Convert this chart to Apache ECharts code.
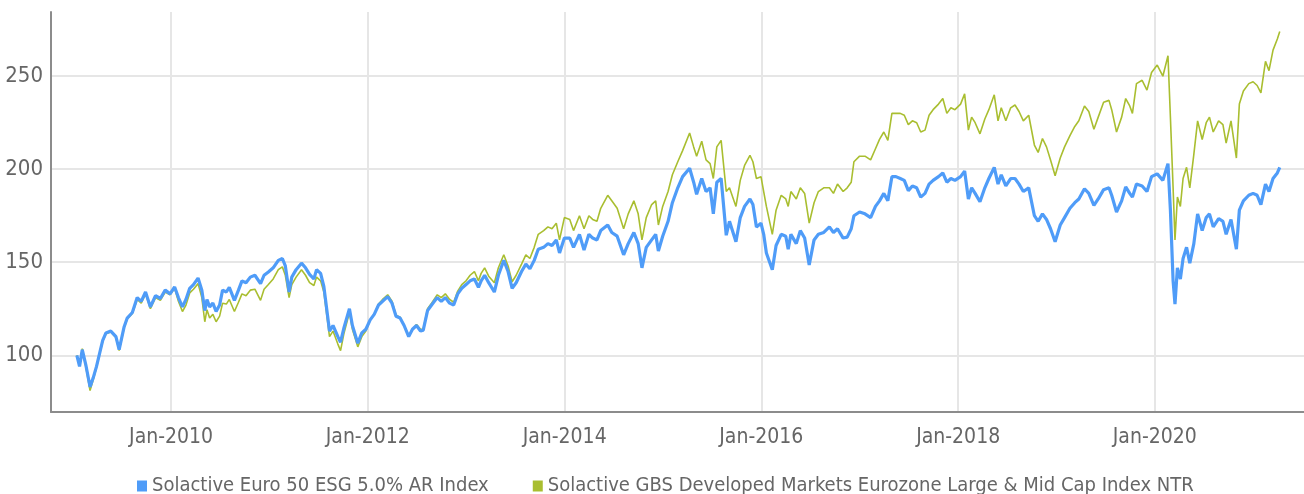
<!DOCTYPE html>
<html><head><meta charset="utf-8">
<script src="https://cdn.jsdelivr.net/npm/echarts@6/dist/echarts.min.js"></script>
<style>html,body{margin:0;padding:0;background:#fff}#c{width:1304px;height:494px}</style>
</head><body><div id="c"></div>
<script>
const seriesNames = ['Solactive Euro 50 ESG 5.0% AR Index', 'Solactive GBS Developed Markets Eurozone Large & Mid Cap Index NTR'];
const dates = [
'2009-01-16','2009-01-26','2009-02-05','2009-02-18','2009-03-06','2009-03-18','2009-03-30','2009-04-12','2009-04-22','2009-05-04','2009-05-22','2009-06-10','2009-06-22','2009-07-10','2009-07-22','2009-08-10','2009-08-28','2009-09-12','2009-09-28','2009-10-16','2009-11-04','2009-11-22','2009-12-10','2009-12-28',
'2010-01-14','2010-01-28','2010-02-12','2010-02-25','2010-03-11','2010-03-25','2010-04-11','2010-04-25','2010-05-06','2010-05-14','2010-05-24','2010-06-05','2010-06-17','2010-06-30','2010-07-11','2010-07-25','2010-08-05','2010-08-24','2010-09-08','2010-09-21','2010-10-06','2010-10-22','2010-11-08','2010-11-29','2010-12-12','2010-12-28',
'2011-01-15','2011-02-03','2011-02-18','2011-03-01','2011-03-15','2011-03-25','2011-04-10','2011-04-30','2011-05-15','2011-05-30','2011-06-15','2011-06-25','2011-07-10','2011-07-22','2011-08-05','2011-08-12','2011-08-25','2011-09-12','2011-09-22','2011-10-05','2011-10-25','2011-11-05','2011-11-25','2011-12-10','2011-12-25',
'2012-01-10','2012-01-25','2012-02-10','2012-02-25','2012-03-15','2012-03-31','2012-04-15','2012-04-30','2012-05-15','2012-06-01','2012-06-15','2012-06-30','2012-07-15','2012-07-25','2012-08-10','2012-08-25','2012-09-15','2012-09-30','2012-10-15','2012-10-31','2012-11-15','2012-11-30','2012-12-15','2012-12-31',
'2013-01-15','2013-01-31','2013-02-15','2013-02-25','2013-03-10','2013-03-25','2013-04-15','2013-04-30','2013-05-20','2013-06-05','2013-06-20','2013-07-05','2013-07-25','2013-08-10','2013-08-25','2013-09-10','2013-09-25','2013-10-15','2013-10-31','2013-11-15','2013-12-01','2013-12-13','2013-12-31',
'2014-01-20','2014-02-03','2014-02-25','2014-03-14','2014-04-01','2014-04-15','2014-05-01','2014-05-15','2014-06-10','2014-06-25','2014-07-15','2014-08-08','2014-08-25','2014-09-15','2014-10-01','2014-10-15','2014-10-31','2014-11-20','2014-12-05','2014-12-15','2014-12-31',
'2015-01-20','2015-02-05','2015-02-25','2015-03-15','2015-04-10','2015-04-25','2015-05-06','2015-05-25','2015-06-10','2015-06-25','2015-07-07','2015-07-20','2015-08-05','2015-08-24','2015-09-05','2015-09-29','2015-10-15','2015-10-31','2015-11-20','2015-12-01','2015-12-14','2015-12-31',
'2016-01-10','2016-01-20','2016-02-11','2016-02-25','2016-03-15','2016-04-01','2016-04-10','2016-04-20','2016-05-10','2016-05-25','2016-06-10','2016-06-27','2016-07-15','2016-07-31','2016-08-20','2016-09-10','2016-09-25','2016-10-10','2016-10-31','2016-11-15','2016-11-30','2016-12-10','2016-12-31',
'2017-01-20','2017-02-10','2017-02-28','2017-03-15','2017-03-31','2017-04-15','2017-04-30','2017-05-15','2017-05-31','2017-06-15','2017-06-30','2017-07-15','2017-07-31','2017-08-15','2017-08-31','2017-09-15','2017-09-30','2017-10-20','2017-11-05','2017-11-20','2017-12-05','2017-12-20',
'2018-01-10','2018-01-25','2018-02-08','2018-02-20','2018-03-05','2018-03-23','2018-04-10','2018-04-25','2018-05-15','2018-05-29','2018-06-10','2018-06-27','2018-07-15','2018-07-31','2018-08-15','2018-08-31','2018-09-20','2018-10-11','2018-10-25','2018-11-10','2018-11-25','2018-12-10','2018-12-27',
'2019-01-15','2019-01-31','2019-02-20','2019-03-10','2019-03-25','2019-04-15','2019-05-01','2019-05-20','2019-06-05','2019-06-25','2019-07-15','2019-07-25','2019-08-12','2019-08-31','2019-09-15','2019-09-30','2019-10-10','2019-10-25','2019-11-15','2019-12-03','2019-12-20',
'2020-01-10','2020-01-31','2020-02-19','2020-02-28','2020-03-09','2020-03-16','2020-03-25','2020-04-05','2020-04-15','2020-04-28','2020-05-10','2020-05-25','2020-06-08','2020-06-25','2020-07-10','2020-07-22','2020-08-05','2020-08-25','2020-09-10','2020-09-22','2020-10-10','2020-10-30','2020-11-10','2020-11-25','2020-12-15','2020-12-31',
'2021-01-15','2021-01-29','2021-02-15','2021-02-28','2021-03-15','2021-03-31','2021-04-09'
];
const euro50Esg = [
100,94,103,95,83,88,94,102,108,112,113,110,103,115,120,123,131,129,134,126,132,130.5,135,133,
136.7,131,126,130,136,138,141.5,135,124,130,126,128,123.5,127,135,134,136.5,129.5,135,140,139,142,143,138.5,143,144.8,
147,151,152,148,134,142,146,149.5,147,143.5,141,146,144,137,121,113,116,110,107,115,125,116,106.5,112,114,
119,122,127,129,131.5,128,121,120,116,110,114,116,113,113.5,124,127,131,129,131,128,127,133,136,138,
140,141,136.5,140,143,139,134,143,151,145,136,139,145,149,146.5,151,157,158,160,159,162,155,163,
163,158,165,156.5,165,163,162,167,170,166,164,154,160,166,160,147,158,162,165,156,164,
172,182,190,196,200.5,193,186.5,195,188,190,176,193,195,164.5,172,161,174,180,184,181,169,171,
165,155,146,159,165,164,157,165,160,167,163,148.5,162,165,166,169,166,168,163,163.5,168,175,177,
176,174,180,183,187,183,196,196,195,194,188.5,191,190,185,187,192,194,196,198,193,195,194,
196,199,184,190,187,182.5,190,195,201,192,197,191,195,195,192,188,190,175,172,176,173,168,161,
170,174,179,182,184,189.5,187,180.5,184,189,190,186,177,183,190.5,187,185,192,191,188,196,
197.5,194,203,178,140,127.5,147,141,152,158,149.5,160,176,167,174,176,169,173.5,172,165,173,157,178,183,186,187,
186,181,192,188,195,198,201
];
const gbsEurozone = [
100,94.5,103.5,94,81,87,93.5,101.5,107.5,111.5,112.5,109.5,102.5,114.5,119.5,122.5,130,128,133,125,131,129.5,134,132.5,
136,129,123.5,127,133.5,135.5,138.5,131,118,124.5,120,122,118,121,128,127.5,130,123.5,128.5,133,132,135,135.5,129.5,135.5,138,
141,146,147.5,143,131,138,142,146,143,139,137.5,142,140,134,118,110,113,106,102.5,112,123,114,104.5,110,113,
119,122,127.5,130,132.5,129,121.5,120.5,116,110.5,114,116.5,114,114,125,128,132.5,131,133,130,128.5,134.5,138,140,
143,145,140,144,147,142.5,139,147,154,148,139.5,143,149,154,152,158,165,167,169,168,171,162,174,
173,167,175,168,175,173,172,179,186,183,179,168,176,183,176,162,174,181,183,170,180,
188,197,204,210,219.5,212,207,215,205,203,195,212,215.5,188,190,180,194,202,207.5,204,195,196,
188,180,165,178,186,184,180,188,184,190,187,171,182,188,190,190,187,192,188,190,193,204,207,
207,205,211,216,220,215.5,230,230,230,229,224,226,225,220,221,229,232,235,238,230,233,232,
235,240.5,221,228,225,219,227,232,240,226,233,226,233,234.5,231,226,229,213,209,216.5,212,205,196.5,
206,212,218,223,226,234,231,221.5,228,236,237,232,220,228,238,234,230,246,247.8,242.5,252,
256,250,261,228,190,162,185,180,195,201,190,208,226,216,225,228,220,226,224,214,226,206,235,242,246,247,
245,241,258,253,264,270,274
];
const yTickValues = [100, 150, 200, 250];
const xTickYears = [2010, 2012, 2014, 2016, 2018, 2020];
const xAxisStart = '2008-10-12';
const xAxisEnd = '2021-07-08';

const FONT = '"DejaVu Sans Condensed", "Liberation Sans Narrow", sans-serif';
const ts = s => Date.UTC(+s.slice(0, 4), +s.slice(5, 7) - 1, +s.slice(8, 10));
const xTicks = xTickYears.map(y => Date.UTC(y, 0, 1));
const blueData = dates.map((d, i) => [ts(d), euro50Esg[i]]);
const greenData = dates.map((d, i) => [ts(d), gbsEurozone[i]]);

const chart = echarts.init(document.getElementById('c'), null, {renderer: 'canvas'});
chart.setOption({
  animation: false,
  backgroundColor: '#ffffff',
  grid: {left: 51, right: 0, top: 12, bottom: 82, containLabel: false, outerBoundsMode: 'none'},
  legend: {
    data: [seriesNames[0], seriesNames[1]],
    top: 471, left: 132,
    icon: 'rect', itemWidth: 10, itemHeight: 11, itemGap: 44,
    textStyle: {fontFamily: FONT, fontSize: 20, color: '#666666'}
  },
  xAxis: {
    type: 'value',
    min: ts(xAxisStart), max: ts(xAxisEnd),
    axisLine: {show: true, lineStyle: {color: '#8c8c8c', width: 2}},
    axisTick: {show: false, customValues: xTicks},
    axisLabel: {
      customValues: xTicks, margin: 15,
      fontFamily: FONT, fontSize: 21, color: '#666666',
      formatter: v => 'Jan-' + new Date(v).getUTCFullYear()
    },
    splitLine: {show: true, lineStyle: {color: '#e6e6e6', width: 2}}
  },
  yAxis: {
    type: 'value',
    min: 69.5, max: 284.5,
    axisLine: {show: true, lineStyle: {color: '#8c8c8c', width: 2}},
    axisTick: {show: false, customValues: yTickValues},
    axisLabel: {customValues: yTickValues, margin: 8, fontFamily: FONT, fontSize: 22, color: '#666666'},
    splitLine: {show: true, lineStyle: {color: '#e6e6e6', width: 2}}
  },
  series: [
    {name: seriesNames[1], type: 'line', data: greenData, showSymbol: false, symbol: 'none',
     lineStyle: {color: '#a9be30', width: 1.6}, itemStyle: {color: '#a9be30'}, z: 2},
    {name: seriesNames[0], type: 'line', data: blueData, showSymbol: false, symbol: 'none',
     lineStyle: {color: '#4f9cf8', width: 3.2}, itemStyle: {color: '#4f9cf8'}, z: 3}
  ]
});
</script></body></html>
